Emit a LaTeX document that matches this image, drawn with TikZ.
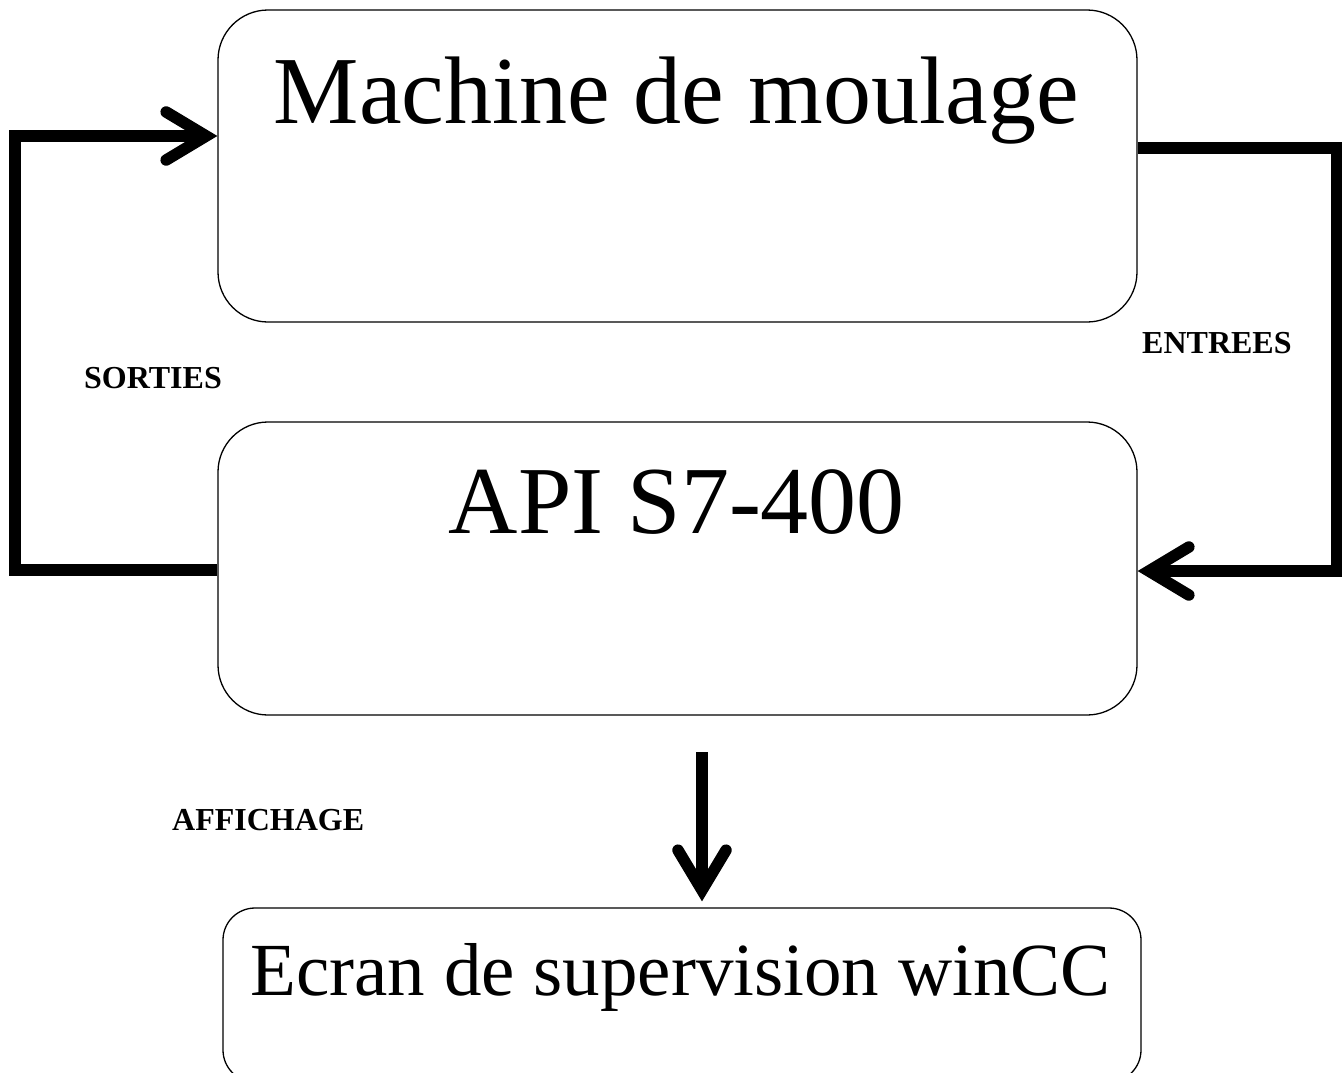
\documentclass[tikz,border=0pt]{standalone}
\usepackage{fontspec}
\setmainfont{Liberation Serif}
\usetikzlibrary{arrows.meta}
\tikzset{
  box/.style={draw, line width=1.3pt, rounded corners=#1, inner sep=0pt},
  box/.default=50pt,
  bigtext/.style={inner sep=0pt, anchor=base, font=\fontsize{#1}{#1}\selectfont},
  lbl/.style={inner sep=0pt, anchor=base west, font=\fontsize{32}{32}\selectfont\bfseries},
  conn/.style={line width=11.5pt, line join=miter, line cap=butt,
    -{Straight Barb[length=40pt, width=48pt, line cap=round, line join=miter]}},
}
\begin{document}
\begin{tikzpicture}[x=1pt, y=-1pt]
\useasboundingbox (0,0) rectangle (1342,1072);
% boxes
\node[box, minimum width=919pt, minimum height=312pt] (mach) at (677.5,166) {};
\node[box, minimum width=919pt, minimum height=293pt] (api) at (677.5,568.5) {};
\node[box=32pt, minimum width=918pt, minimum height=174pt] (ecr) at (682,995) {};
% texts
\node[bigtext=96] (tmach) at (676.5,123) {Machine de moulage};
\node[bigtext=96] (tapi) at (677,533) {API S7-400};
\node[bigtext=75] (tecr) at (680.5,995) {Ecran de supervision winCC};
% labels
\node[lbl] (sorties) at (84,388) {SORTIES};
\node[lbl] (entrees) at (1142,353) {ENTREES};
\node[lbl] (affichage) at (172,830) {AFFICHAGE};
% coordinates
\coordinate (lb) at (15,570);
\coordinate (lt) at (15,136);
\coordinate (rt) at (1336.5,148);
\coordinate (rb) at (1336.5,571);
\coordinate (ds) at (702,752);
% connectors
\draw[conn] (api.west |- lb) -- (lb) -- (lt) -- (mach.west |- lt);
\draw[conn] (mach.east |- rt) -- (rt) -- (rb) -- (api.east |- rb);
\draw[conn, shorten >=6pt] (ds) -- (ecr.north -| ds);
\end{tikzpicture}
\end{document}
